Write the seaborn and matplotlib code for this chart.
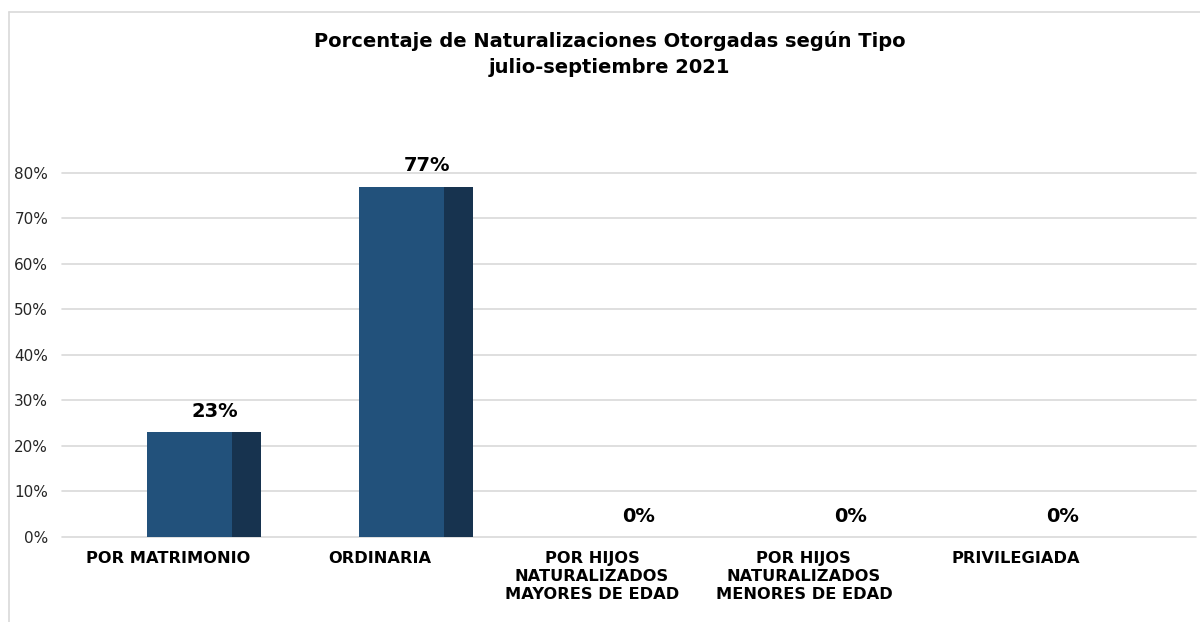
import matplotlib
matplotlib.use("Agg")
import matplotlib.pyplot as plt
from matplotlib.lines import Line2D
from matplotlib.ticker import FuncFormatter
import seaborn as sns

# --- Data ---
categories = [
    "POR MATRIMONIO",
    "ORDINARIA",
    "POR HIJOS\nNATURALIZADOS\nMAYORES DE EDAD",
    "POR HIJOS\nNATURALIZADOS\nMENORES DE EDAD",
    "PRIVILEGIADA",
]
values = [23, 77, 0, 0, 0]
value_labels = ["23%", "77%", "0%", "0%", "0%"]
y_ticks = [0, 10, 20, 30, 40, 50, 60, 70, 80]

front_color = "#22517B"
side_color = "#17334F"
grid_color = "#D9D9D9"

sns.set_style("white")
plt.rcParams["font.family"] = ["DejaVu Sans"]
plt.rcParams["text.color"] = "black"

fig = plt.figure(figsize=(12, 6.22), dpi=100)
ax = fig.add_axes([0.0517, 0.1367, 0.945, 0.5852])

# front faces of the bars
sns.barplot(x=categories, y=values, color=front_color, width=0.4,
            saturation=1, ax=ax)
for p in ax.patches:
    p.set_x(p.get_x() + 0.10)
    p.set_edgecolor("none")

# side faces give the 3D look
xs = list(range(len(categories)))
ax.bar([x + 0.30 for x in xs], values, width=0.14, align="edge",
       color=side_color, edgecolor="none")

# value labels
for x, v, lab in zip(xs, values, value_labels):
    ax.annotate(lab, (x + 0.22, v), xytext=(0, 15), textcoords="offset points",
                ha="center", va="center", fontsize=14, fontweight="bold",
                color="black", annotation_clip=False)

ax.set_xlim(-0.5, 4.85)
ax.set_ylim(0, 80)
ax.set_yticks(y_ticks)
ax.yaxis.set_major_formatter(FuncFormatter(lambda v, _: f"{v:.0f}%"))
ax.yaxis.grid(True, color=grid_color, linewidth=1.2)
for gl in ax.get_ygridlines():
    gl.set_clip_on(False)
ax.set_axisbelow(True)
for s in ax.spines.values():
    s.set_visible(False)

ax.tick_params(axis="y", length=0, pad=10, labelsize=11, labelcolor="#262626")
ax.tick_params(axis="x", length=0, pad=10)
ax.set_xticks(xs)
ax.set_xticklabels(categories, fontsize=11.7, fontweight="bold", color="black",
                   ha="center", va="top", linespacing=1.25)
ax.set_xlabel("")
ax.set_ylabel("")

fig.text(0.508, 0.913,
         "Porcentaje de Naturalizaciones Otorgadas según Tipo\njulio-septiembre 2021",
         ha="center", va="center", fontsize=14, fontweight="bold",
         color="black", linespacing=1.45)

# chart frame (top and left edges)
fig.add_artist(Line2D([8.5 / 1200, 8.5 / 1200], [0, 1 - 12 / 622],
                      transform=fig.transFigure, color=grid_color, linewidth=1.2))
fig.add_artist(Line2D([8.5 / 1200, 1], [1 - 12 / 622, 1 - 12 / 622],
                      transform=fig.transFigure, color=grid_color, linewidth=1.2))

fig.savefig("out.png", dpi=100)
